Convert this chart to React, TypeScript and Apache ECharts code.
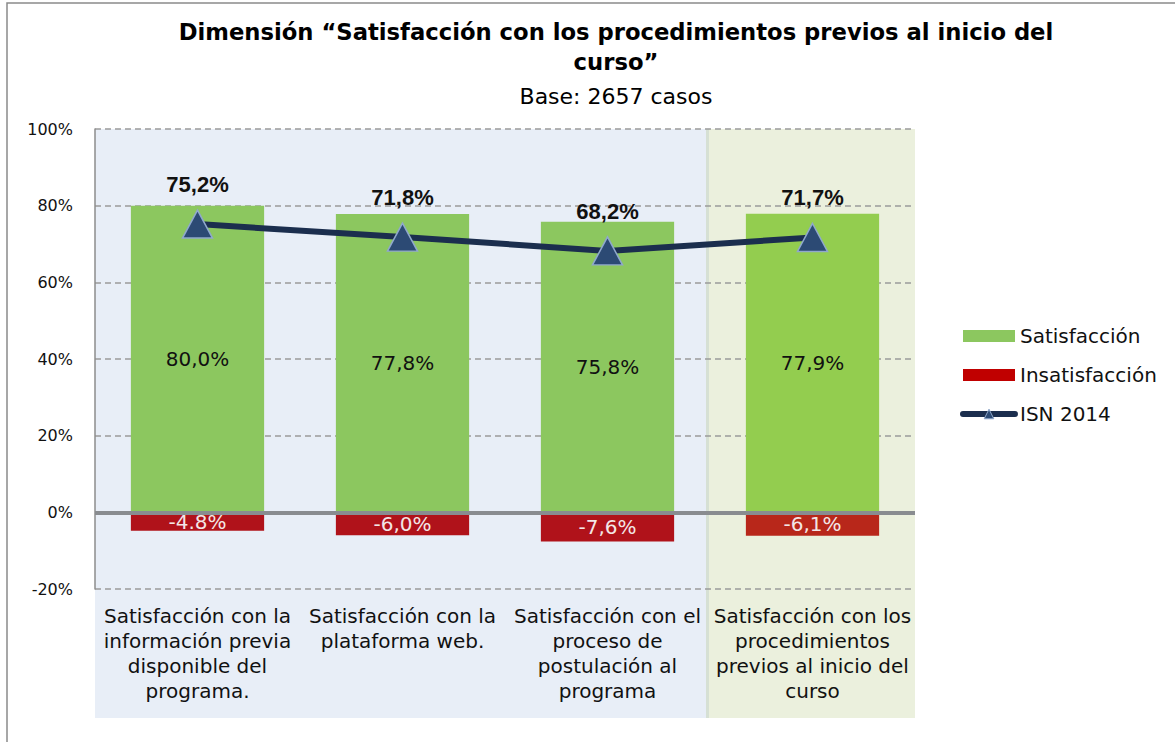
import React, { useEffect, useRef } from "react";
import * as echarts from "echarts";

const categories = [
  "Satisfacción con la\ninformación previa\ndisponible del\nprograma.",
  "Satisfacción con la\nplataforma web.",
  "Satisfacción con el\nproceso de\npostulación al\nprograma",
  "Satisfacción con los\nprocedimientos\nprevios al inicio del\ncurso",
];
const satisfaccion = [80.0, 77.8, 75.8, 77.9];
const insatisfaccion = [-4.8, -6.0, -7.6, -6.1];
const insatLabels = ["-4.8%", "-6,0%", "-7,6%", "-6,1%"];
const isn2014 = [75.2, 71.8, 68.2, 71.7];
const greenColors = ["#8CC75F", "#8CC75F", "#8CC75F", "#93CD4F"];
const redColors = ["#B0121A", "#B0121A", "#B0121A", "#B8271A"];

const fmt = (v: number) => v.toFixed(1).replace(".", ",") + "%";
const FONT = "'DejaVu Sans', sans-serif";

export default function App() {
  const ref = useRef<HTMLDivElement>(null);
  useEffect(() => {
    if (!ref.current) return;
    const chart = echarts.init(ref.current, undefined, { renderer: "svg" });
    chart.setOption({
      animation: false,
      backgroundColor: "#ffffff",
      title: {
        text: "Dimensión “Satisfacción con los procedimientos previos al inicio del\ncurso”",
        subtext: "Base: 2657 casos",
        left: 611,
        textAlign: "center",
        top: 12,
        itemGap: 8,
        textStyle: {
          fontFamily: "'DejaVu Sans', sans-serif",
          fontWeight: "bold",
          fontSize: 22.7,
          lineHeight: 30,
          color: "#000",
        },
        subtextStyle: {
          fontFamily: FONT,
          fontSize: 22,
          color: "#000",
        },
      },
      graphic: {
        elements: [
          {
            type: "rect",
            z: -20,
            silent: true,
            shape: { x: 7, y: 3, width: 1200, height: 760 },
            style: { fill: "#fff", stroke: "#8a8a8a", lineWidth: 1.5 },
          },
          {
            type: "rect",
            z: -10,
            silent: true,
            shape: { x: 95, y: 129, width: 611, height: 589 },
            style: { fill: "#E8EEF7" },
          },
          {
            type: "rect",
            z: -10,
            silent: true,
            shape: { x: 706, y: 129, width: 3, height: 589 },
            style: { fill: "#D6E0D4" },
          },
          {
            type: "rect",
            z: -10,
            silent: true,
            shape: { x: 709, y: 129, width: 206, height: 589 },
            style: { fill: "#EBF0DD" },
          },
        ],
      },
      legend: {
        orient: "vertical",
        left: 955,
        top: 321,
        itemWidth: 52,
        itemHeight: 12,
        itemGap: 19,
        data: [
          { name: "Satisfacción", icon: "rect" },
          { name: "Insatisfacción", icon: "rect" },
          {
            name: "ISN 2014",
            lineStyle: { width: 6, color: "#1B2E4E", cap: "round" },
            itemStyle: { color: "#2C4A74", borderColor: "#8FA8CC", borderWidth: 1 },
          },
        ],
        textStyle: { fontFamily: FONT, fontSize: 20, color: "#111" },
      },
      grid: { left: 95, right: 260, top: 129, bottom: 153, containLabel: false },
      xAxis: {
        type: "category",
        data: categories,
        axisLine: { show: false, onZero: false },
        axisTick: { show: false },
        axisLabel: {
          interval: 0,
          margin: 14,
          fontFamily: FONT,
          fontSize: 20,
          lineHeight: 25,
          color: "#111",
          overflow: "none",
        },
      },
      yAxis: {
        type: "value",
        min: -20,
        max: 100,
        interval: 20,
        axisLine: { show: true, lineStyle: { color: "#8c8c8c", width: 1.5 } },
        axisTick: { show: false },
        axisLabel: {
          formatter: "{value}%",
          fontFamily: FONT,
          fontSize: 16,
          color: "#111",
          margin: 22,
        },
        splitLine: {
          show: true,
          lineStyle: { color: "#9a9a9a", type: [6, 4], width: 1.5 },
        },
      },
      series: [
        {
          name: "Satisfacción",
          type: "bar",
          stack: "s",
          barWidth: "65%",
          data: satisfaccion.map((v, i) => ({ value: v, itemStyle: { color: greenColors[i] } })),
          itemStyle: { color: "#8CC75F" },
          label: {
            show: true,
            position: "inside",
            formatter: (p: any) => fmt(p.value),
            fontFamily: FONT,
            fontSize: 20,
            color: "#111",
          },
          markLine: {
            silent: true,
            symbol: "none",
            label: { show: false },
            lineStyle: { color: "#898C90", width: 4, type: "solid" },
            data: [{ yAxis: 0 }],
          },
        },
        {
          name: "Insatisfacción",
          type: "bar",
          stack: "s",
          barWidth: "65%",
          data: insatisfaccion.map((v, i) => ({ value: v, itemStyle: { color: redColors[i] } })),
          itemStyle: { color: "#C00000" },
          label: {
            show: true,
            position: "inside",
            formatter: (p: any) => insatLabels[p.dataIndex],
            fontFamily: FONT,
            fontSize: 20,
            color: "#F3E6E6",
          },
        },
        {
          name: "ISN 2014",
          type: "line",
          data: isn2014,
          z: 5,
          symbol: "triangle",
          symbolSize: [30, 28],
          lineStyle: { color: "#1B2E4E", width: 6 },
          itemStyle: { color: "#2C4A74", borderColor: "#8FA8CC", borderWidth: 1.5 },
          label: {
            show: true,
            position: "top",
            distance: 14,
            formatter: (p: any) => fmt(p.value),
            fontFamily: "'Liberation Sans', Arial, sans-serif",
            fontWeight: "bold",
            fontSize: 22,
            color: "#111",
          },
        },
      ],
    });
    return () => chart.dispose();
  }, []);
  return (
    <div
      ref={ref}
      style={{ position: "absolute", left: 0, top: 0, width: 1175, height: 742 }}
    />
  );
}
